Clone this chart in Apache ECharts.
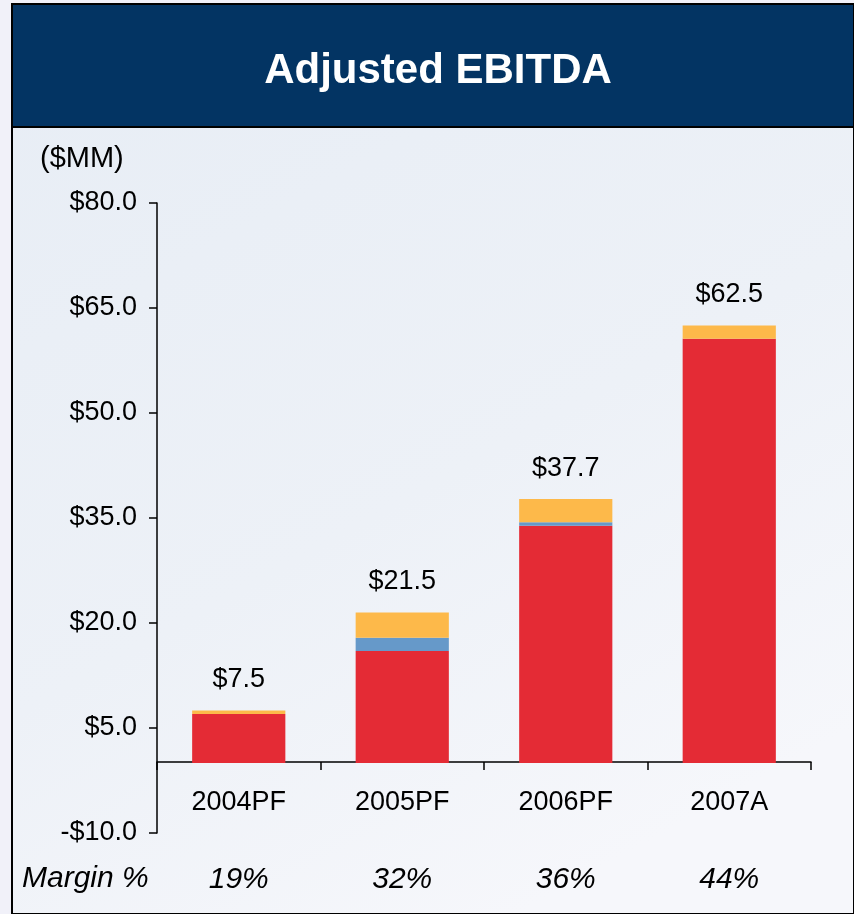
<!DOCTYPE html>
<html>
<head>
<meta charset="utf-8">
<script src="https://cdn.jsdelivr.net/npm/echarts@6/dist/echarts.min.js"></script>
<style>
  html, body { margin: 0; padding: 0; background: #f3f4fa; }
  #chart { width: 854px; height: 914px; }
</style>
</head>
<body>
<div id="chart"></div>
<script>
// values in $MM
const years = ['2004PF', '2005PF', '2006PF', '2007A'];
const margins = ['19%', '32%', '36%', '44%'];
const baseEbitda = [7.0, 16.0, 33.9, 60.6];   // red
const addBackA = [0.0, 1.9, 0.5, 0.0];        // blue
const addBackB = [0.5, 3.6, 3.3, 1.9];        // yellow
const totals = [7.5, 21.5, 37.7, 62.5];

const font = '"Liberation Sans", Arial, sans-serif';
const chart = echarts.init(document.getElementById('chart'));

const stackSeries = [
    { name: 'base', color: '#e42b35', data: baseEbitda },
    { name: 'addA', color: '#6699c9', data: addBackA },
    { name: 'addB', color: '#fdb94a', data: addBackB },
];

chart.setOption({
    backgroundColor: '#f1f1f9',
    animation: false,
    title: {
        text: 'Adjusted EBITDA',
        left: 433,
        top: 45,
        textAlign: 'center',
        textStyle: { color: '#fff', fontSize: 42, fontWeight: 'bold', fontFamily: font },
    },
    graphic: [
        {
            type: 'rect', z: -10, silent: true,
            shape: { x: 12, y: 4, width: 842, height: 910 },
            style: {
                fill: new echarts.graphic.LinearGradient(0, 0, 0.6, 1, [
                    { offset: 0, color: '#e7edf5' },
                    { offset: 0.6, color: '#edf1f7' },
                    { offset: 1, color: '#f6f7fb' },
                ]),
                stroke: '#000', lineWidth: 2,
            },
        },
        {
            type: 'rect', z: -9, silent: true,
            shape: { x: 12, y: 4, width: 842, height: 123 },
            style: { fill: '#033463', stroke: '#000', lineWidth: 2 },
        },
        {
            type: 'text', left: 40, top: 144,
            style: { text: '($MM)', fill: '#000', font: '29px ' + font },
        },
        {
            type: 'text', left: 22, top: 864,
            style: { text: 'Margin %', fill: '#000', font: 'italic 30px ' + font },
        },
    ],
    grid: { left: 157, right: 43, top: 203, bottom: 81 },
    xAxis: [
        {
            type: 'category',
            data: years,
            position: 'bottom',
            offset: -71,   // sits on the $0 line
            axisLine: { onZero: false, lineStyle: { color: '#000', width: 1.5 } },
            axisTick: { show: true, length: 8, lineStyle: { color: '#000', width: 1.5 } },
            axisLabel: { color: '#000', fontSize: 27, fontFamily: font, margin: 27 },
        },
        {
            type: 'category',
            position: 'bottom',
            data: margins,
            axisLine: { show: false, onZero: false },
            axisTick: { show: false },
            axisLabel: { color: '#000', fontSize: 30, fontStyle: 'italic', fontFamily: font, margin: 32 },
        },
    ],
    yAxis: {
        type: 'value',
        min: -10,
        max: 80,
        interval: 15,
        splitLine: { show: false },
        axisLine: { show: true, lineStyle: { color: '#000', width: 1.5 } },
        axisTick: { show: true, length: 8, lineStyle: { color: '#000', width: 1.5 } },
        axisLabel: {
            color: '#000', fontSize: 27, fontFamily: font, margin: 20,
            formatter: (v) => (v < 0 ? '-$' : '$') + Math.abs(v).toFixed(1),
        },
    },
    series: stackSeries.map((s, i) => ({
        name: s.name,
        type: 'bar',
        stack: 'total',
        barWidth: '57%',
        itemStyle: { color: s.color },
        data: s.data,
        label: i === stackSeries.length - 1 ? {
            show: true,
            position: 'top',
            distance: 17,
            color: '#000',
            fontSize: 27,
            fontFamily: font,
            formatter: (p) => '$' + totals[p.dataIndex].toFixed(1),
        } : { show: false },
    })),
});
</script>
</body>
</html>
